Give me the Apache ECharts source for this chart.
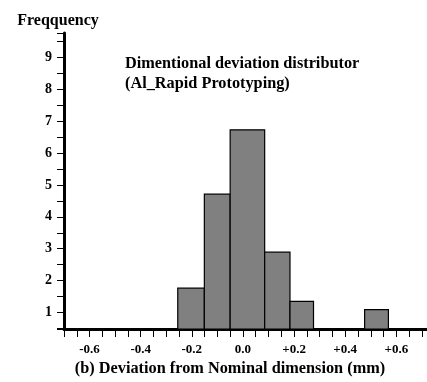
<!DOCTYPE html>
<html>
<head>
<meta charset="utf-8">
<script src="https://cdn.jsdelivr.net/npm/echarts@6/dist/echarts.min.js"></script>
<style>
  html, body { margin: 0; padding: 0; background: #fff; }
  #chart { width: 427px; height: 382px; }
</style>
</head>
<body>
<div id="chart"></div>
<script>
// histogram bins (mm) and frequencies
const binStart = [-0.255, -0.151, -0.05, 0.085, 0.184, 0.476];
const binEnd = [-0.151, -0.05, 0.085, 0.184, 0.276, 0.569];
const counts = [1.76, 4.71, 6.73, 2.89, 1.35, 1.09];

const xMin = -0.7;
const xMax = 0.72;
const yMin = 0.48;
const yMax = 9.77;

const serif = "'Liberation Serif', 'Times New Roman', serif";

const chart = echarts.init(document.getElementById("chart"));

const option = {
  backgroundColor: "#ffffff",
  animation: false,
  title: {
    text: "Dimentional deviation distributor\n(Al_Rapid Prototyping)",
    left: 125,
    top: 54,
    padding: 0,
    textStyle: {
      fontFamily: serif,
      fontWeight: "bold",
      fontSize: 16.3,
      lineHeight: 20,
      color: "#000",
    },
  },
  grid: {
    left: 64,
    right: 0,
    top: 33,
    bottom: 47,
  },
  xAxis: {
    type: "value",
    min: xMin,
    max: xMax,
    splitNumber: 7,
    name: "(b) Deviation from Nominal dimension (mm)",
    nameLocation: "middle",
    nameGap: 32,
    nameTextStyle: {
      fontFamily: serif,
      fontWeight: "bold",
      fontSize: 16.3,
      color: "#000",
      padding: [0, 31, 0, 0],
    },
    axisLine: { onZero: false, lineStyle: { color: "#000", width: 3 } },
    axisTick: { length: 8, lineStyle: { color: "#000", width: 1 } },
    minorTick: { show: true, splitNumber: 4, length: 8, lineStyle: { color: "#000", width: 1 } },
    splitLine: { show: false },
    axisLabel: {
      showMinLabel: false,
      showMaxLabel: false,
      margin: 14,
      fontFamily: serif,
      fontWeight: "bold",
      fontSize: 13,
      color: "#000",
      formatter: (v) => {
        if (Math.abs(v) < 1e-9) return "0.0";
        return (v > 0 ? "+" : "") + v.toFixed(1);
      },
    },
  },
  yAxis: {
    type: "value",
    min: yMin,
    max: yMax,
    splitNumber: 9,
    name: "Freqquency",
    nameLocation: "end",
    nameGap: 4,
    nameTextStyle: {
      fontFamily: serif,
      fontWeight: "bold",
      fontSize: 16,
      color: "#000",
      padding: [0, 12, 0, 0],
    },
    axisLine: { show: true, onZero: false, lineStyle: { color: "#000", width: 3 } },
    axisTick: { show: true, length: 7, lineStyle: { color: "#000", width: 1 } },
    minorTick: { show: true, splitNumber: 2, length: 7, lineStyle: { color: "#000", width: 1 } },
    splitLine: { show: false },
    axisLabel: {
      showMinLabel: false,
      showMaxLabel: false,
      margin: 12,
      fontFamily: serif,
      fontWeight: "bold",
      fontSize: 14,
      color: "#000",
    },
  },
  series: [
    {
      type: "custom",
      data: binStart.map((s, i) => [s, binEnd[i], counts[i]]),
      encode: { x: [0, 1], y: 2 },
      renderItem: (params, api) => {
        const p0 = api.coord([api.value(0), yMin]);
        const p1 = api.coord([api.value(1), api.value(2)]);
        return {
          type: "rect",
          shape: {
            x: p0[0],
            y: p1[1],
            width: p1[0] - p0[0],
            height: p0[1] - p1[1],
          },
          style: {
            fill: "#808080",
            stroke: "#000",
            lineWidth: 1.2,
          },
        };
      },
    },
  ],
};

chart.setOption(option);
</script>
</body>
</html>
